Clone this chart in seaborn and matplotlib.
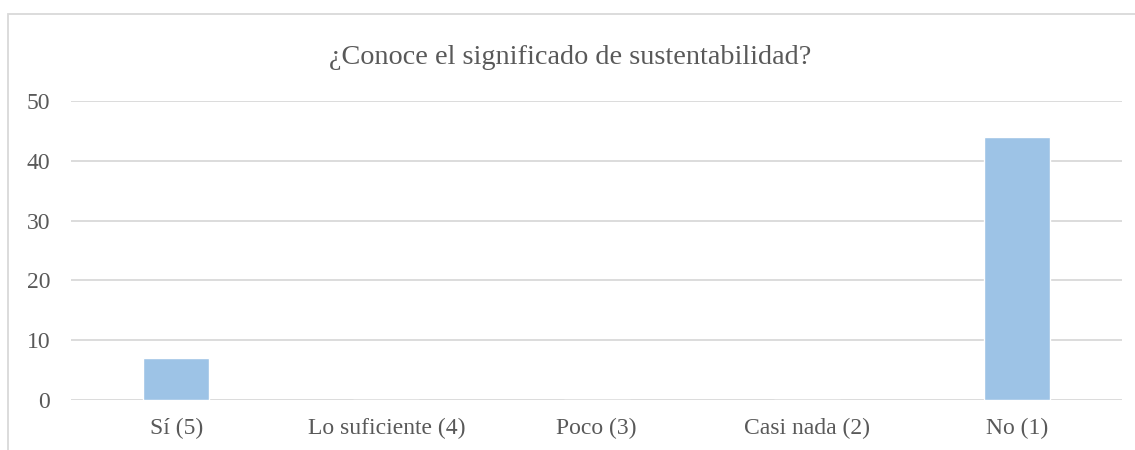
import pandas as pd
import seaborn as sns
import matplotlib.pyplot as plt
from matplotlib.patches import Rectangle

# datos de la encuesta
categorias = ["Sí (5)", "Lo suficiente (4)", "Poco (3)", "Casi nada (2)", "No (1)"]
respuestas = [7, 0, 0, 0, 44]

df = pd.DataFrame({"Respuesta": categorias, "Cantidad": respuestas})

sns.set_style("white")
plt.rcParams["font.family"] = ["Liberation Serif", "DejaVu Serif"]

fig = plt.figure(figsize=(11.35, 4.5), dpi=100)
ax = fig.add_axes([0.0626, 0.111, 0.926, 0.6644])

sns.barplot(x="Respuesta", y="Cantidad", data=df, color="#9DC3E6",
            width=0.314, saturation=1, ax=ax, zorder=3)

ax.set_ylim(0, 50)
ax.set_yticks(range(0, 51, 10))
ax.set_xlabel("")
ax.set_ylabel("")
ax.grid(axis="y", color="#D9D9D9", linewidth=1.3, zorder=0)
sns.despine(ax=ax, left=True, bottom=True, top=True, right=True)
ax.tick_params(axis="both", length=0, labelsize=17, colors="#595959")
ax.tick_params(axis="x", pad=13)
ax.tick_params(axis="y", pad=15)

fig.text(0.502, 0.872, "¿Conoce el significado de sustentabilidad?",
         ha="center", va="center", fontsize=20.3, color="#595959")

# marco del gráfico
fig.patches.append(Rectangle((8 / 1135, -0.1), 1.2, 1.1 - 14 / 450,
                             transform=fig.transFigure, fill=False,
                             edgecolor="#D9D9D9", linewidth=1.3))

fig.savefig("out.png", dpi=100)
